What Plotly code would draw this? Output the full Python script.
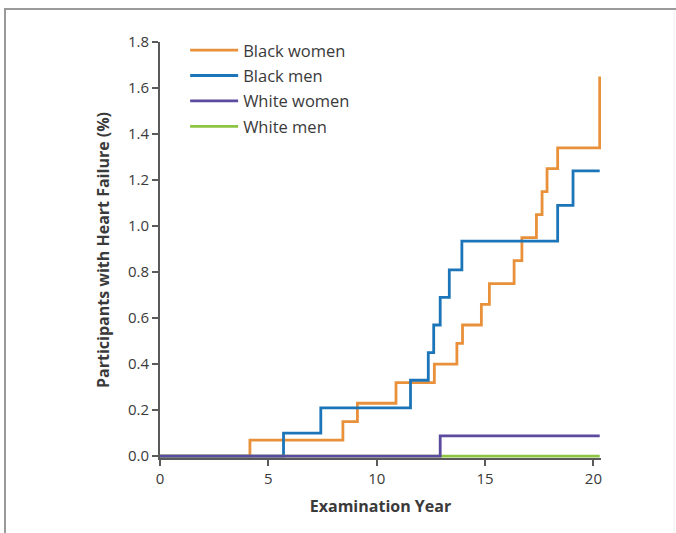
import plotly.graph_objects as go

# Data (step functions: change points and cumulative %)
bw_x = [0, 4.15, 8.44, 9.11, 10.89, 12.66, 13.70, 13.96, 14.83, 15.20, 16.34, 16.70, 17.37, 17.63, 17.86, 18.35, 20.29]
bw_y = [0, 0.07, 0.15, 0.23, 0.32, 0.40, 0.49, 0.57, 0.66, 0.75, 0.85, 0.95, 1.05, 1.15, 1.25, 1.34, 1.65]

bm_x = [0, 5.70, 7.42, 11.56, 12.38, 12.63, 12.93, 13.35, 13.93, 18.35, 19.06, 20.29]
bm_y = [0, 0.10, 0.21, 0.33, 0.45, 0.57, 0.69, 0.81, 0.935, 1.09, 1.24, 1.24]

ww_x = [0, 12.93, 20.29]
ww_y = [0, 0.088, 0.088]

wm_x = [0, 20.29]
wm_y = [0, 0]

x_ticks = [0, 5, 10, 15, 20]
y_ticks = [0.0, 0.2, 0.4, 0.6, 0.8, 1.0, 1.2, 1.4, 1.6, 1.8]
y_ticklabels = [f"{v:.1f}" for v in y_ticks]

FONT = "'Open Sans', 'Noto Sans', sans-serif"
TXT = "#3a3a3a"

W, H = 676, 533
ML, MR, MT, MB = 160, 75, 42, 75

fig = go.Figure()

def add(name, x, y, color, rank):
    fig.add_trace(go.Scatter(
        x=x, y=y, mode="lines", name=name,
        line=dict(color=color, width=2.8, shape="hv"),
        legendgroup=name, legendrank=rank,
    ))

add("Black women", bw_x, bw_y, "#E8913A", 1)
add("Black men", bm_x, bm_y, "#1C75B8", 2)
add("White men", wm_x, wm_y, "#8DC443", 4)
add("White women", ww_x, ww_y, "#5B4A9E", 3)

axis_col = "#5a5a5a"

fig.update_layout(
    width=W, height=H,
    margin=dict(l=ML, r=MR, t=MT, b=MB),
    paper_bgcolor="white", plot_bgcolor="white",
    font=dict(family=FONT, color=TXT, size=14),
    showlegend=True,
    legend=dict(
        x=0.057, y=1.022, xanchor="left", yanchor="top",
        font=dict(family=FONT, size=16.5, color=TXT),
        bgcolor="rgba(0,0,0,0)", traceorder="grouped", tracegroupgap=1,
        itemwidth=48,
    ),
    xaxis=dict(
        range=[0, 20.35], tickvals=x_ticks, ticktext=[str(v) for v in x_ticks],
        showgrid=False, zeroline=False, showline=True, linecolor=axis_col, linewidth=2,
        ticks="outside", ticklen=6, tickwidth=1.5, tickcolor=axis_col,
        tickfont=dict(size=15, color=TXT),
        title=dict(text="<b>Examination Year</b>", font=dict(size=16, color=TXT), standoff=14),
    ),
    yaxis=dict(
        range=[-0.008, 1.8], tickvals=y_ticks, ticktext=y_ticklabels,
        showgrid=False, zeroline=False, showline=True, linecolor=axis_col, linewidth=2,
        ticks="outside", ticklen=6, tickwidth=1.5, tickcolor=axis_col,
        tickfont=dict(size=15, color=TXT),
        title=dict(text="<b>Participants with Heart Failure (%)</b>", font=dict(size=16, color=TXT), standoff=14),
    ),
)

# Frame around the figure (positions in pixels converted to paper coords)
plot_w = W - ML - MR
plot_h = H - MT - MB
def px_x(p):
    return (p - ML) / plot_w
def px_y(p):
    return 1 - (p - MT) / plot_h

frame_col = "#9a9a9a"
fig.add_shape(type="line", xref="paper", yref="paper", x0=px_x(4), x1=px_x(W), y0=px_y(9), y1=px_y(9),
              line=dict(color=frame_col, width=2))
fig.add_shape(type="line", xref="paper", yref="paper", x0=px_x(5), x1=px_x(5), y0=px_y(8), y1=px_y(H),
              line=dict(color=frame_col, width=2))
fig.add_shape(type="line", xref="paper", yref="paper", x0=px_x(674), x1=px_x(674), y0=px_y(10), y1=px_y(H),
              line=dict(color="#eeeeee", width=1))

fig.write_html("out.html", config={"displayModeBar": False},
               post_script="document.body.style.margin='0';")
